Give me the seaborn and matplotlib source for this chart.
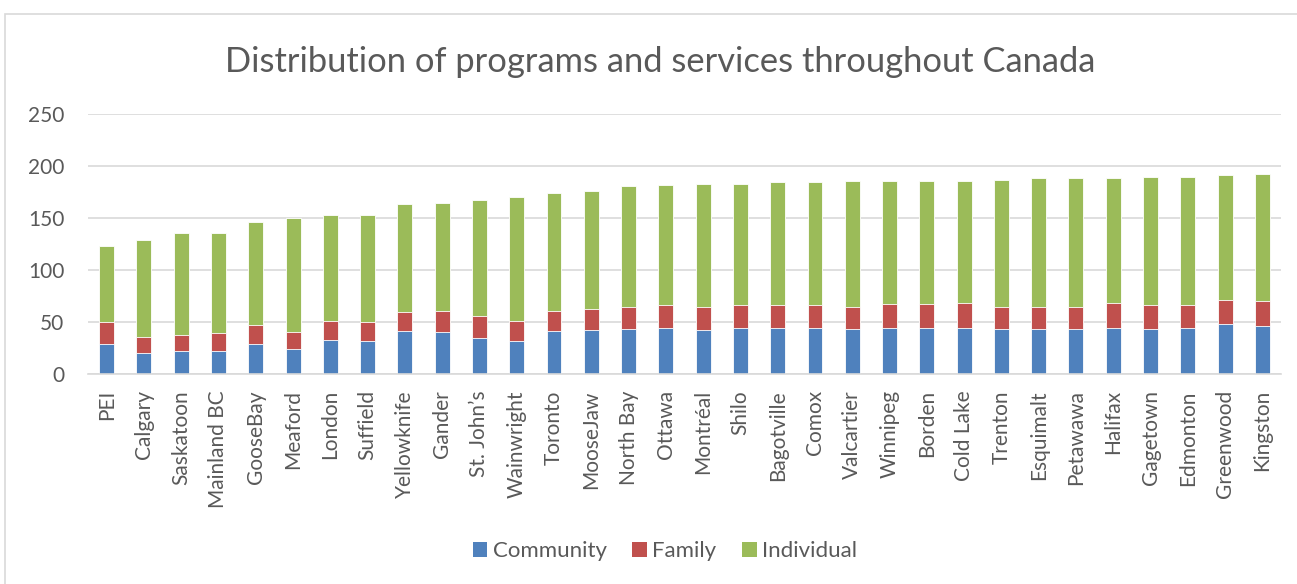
import matplotlib
matplotlib.use("Agg")
import matplotlib.pyplot as plt
from matplotlib.patches import Rectangle
import numpy as np
import pandas as pd
import seaborn as sns

sites = ["PEI", "Calgary", "Saskatoon", "Mainland BC", "GooseBay", "Meaford",
         "London", "Suffield", "Yellowknife", "Gander", "St. John\u2019s",
         "Wainwright", "Toronto", "MooseJaw", "North Bay", "Ottawa", "Montréal",
         "Shilo", "Bagotville", "Comox", "Valcartier", "Winnipeg", "Borden",
         "Cold Lake", "Trenton", "Esquimalt", "Petawawa", "Halifax", "Gagetown",
         "Edmonton", "Greenwood", "Kingston"]
community = [28, 20, 22, 22, 28, 24, 32, 31, 41, 40, 34, 31, 41, 42, 43, 44,
             42, 44, 44, 44, 43, 44, 44, 44, 43, 43, 43, 44, 43, 44, 48, 46]
family = [22, 15, 15, 17, 19, 16, 19, 19, 18, 20, 21, 20, 19, 20, 21, 22,
          22, 22, 22, 22, 21, 23, 23, 24, 21, 21, 21, 24, 23, 22, 23, 24]
individual = [73, 93, 98, 96, 99, 110, 102, 103, 104, 104, 112, 119, 114, 114,
              116, 115, 118, 116, 118, 118, 121, 118, 118, 117, 122, 124, 124,
              120, 123, 123, 120, 122]
series_names = ["Community", "Family", "Individual"]
series_colors = ["#4F81BD", "#C0504D", "#9BBB59"]
y_ticks = [0, 50, 100, 150, 200, 250]
title = "Distribution of programs and services throughout Canada"

df = pd.DataFrame({"site": sites, "Community": community,
                   "Family": family, "Individual": individual})
df["lvl_family"] = df["Community"] + df["Family"]
df["lvl_total"] = df["lvl_family"] + df["Individual"]

sns.set_theme(style="white")
plt.rcParams["font.family"] = ["Lato", "DejaVu Sans"]
text_color = "#595959"
grid_color = "#D9D9D9"

W, H = 1297, 584
fig = plt.figure(figsize=(W / 100, H / 100), dpi=100)
fig.patch.set_facecolor("white")

left, right, top, bottom = 88, 1281, 113.7, 373.5
ax = fig.add_axes([left / W, 1 - bottom / H, (right - left) / W, (bottom - top) / H])

# stacked bars: draw cumulative levels from the top down
layers = [("lvl_total", series_colors[2]),
          ("lvl_family", series_colors[1]),
          ("Community", series_colors[0])]
for col, colr in layers:
    sns.barplot(data=df, x="site", y=col, color=colr, saturation=1,
                width=0.4, edgecolor="#FFFFFF", linewidth=0.6, ax=ax)

ax.set_ylim(0, 250)
ax.set_xlim(-0.5, len(sites) - 0.5)
ax.set_yticks(y_ticks)
ax.set_yticklabels([str(v) for v in y_ticks])
ax.set_xlabel("")
ax.set_ylabel("")
ax.yaxis.grid(True, color=grid_color, linewidth=1.2)
ax.set_axisbelow(True)
for s in ["top", "right", "left"]:
    ax.spines[s].set_visible(False)
ax.spines["bottom"].set_color(grid_color)
ax.spines["bottom"].set_linewidth(1.2)
ax.tick_params(axis="both", length=0, colors=text_color, labelsize=15)
ax.tick_params(axis="y", pad=17)
ax.tick_params(axis="x", pad=12)
plt.setp(ax.get_xticklabels(), rotation=90, va="top", ha="center")

fig.text(660 / W, 1 - 62 / H, title, ha="center", va="center",
         fontsize=24.8, color=text_color)

handles = [Rectangle((0, 0), 1, 1, facecolor=c, edgecolor="none") for c in series_colors]
fig.legend(handles, series_names, loc="center", bbox_to_anchor=(665 / W, 1 - 551 / H),
           ncol=3, frameon=False, fontsize=16, labelcolor=text_color,
           handlelength=0.65, handleheight=0.65, handletextpad=0.25, columnspacing=1.15)

# chart frame
fig.add_artist(Rectangle((4.5 / W, -0.05), 1.1, 1.05 - 14 / H,
                         transform=fig.transFigure, fill=False,
                         edgecolor=grid_color, linewidth=1.2))

fig.savefig("out.png", dpi=100)
